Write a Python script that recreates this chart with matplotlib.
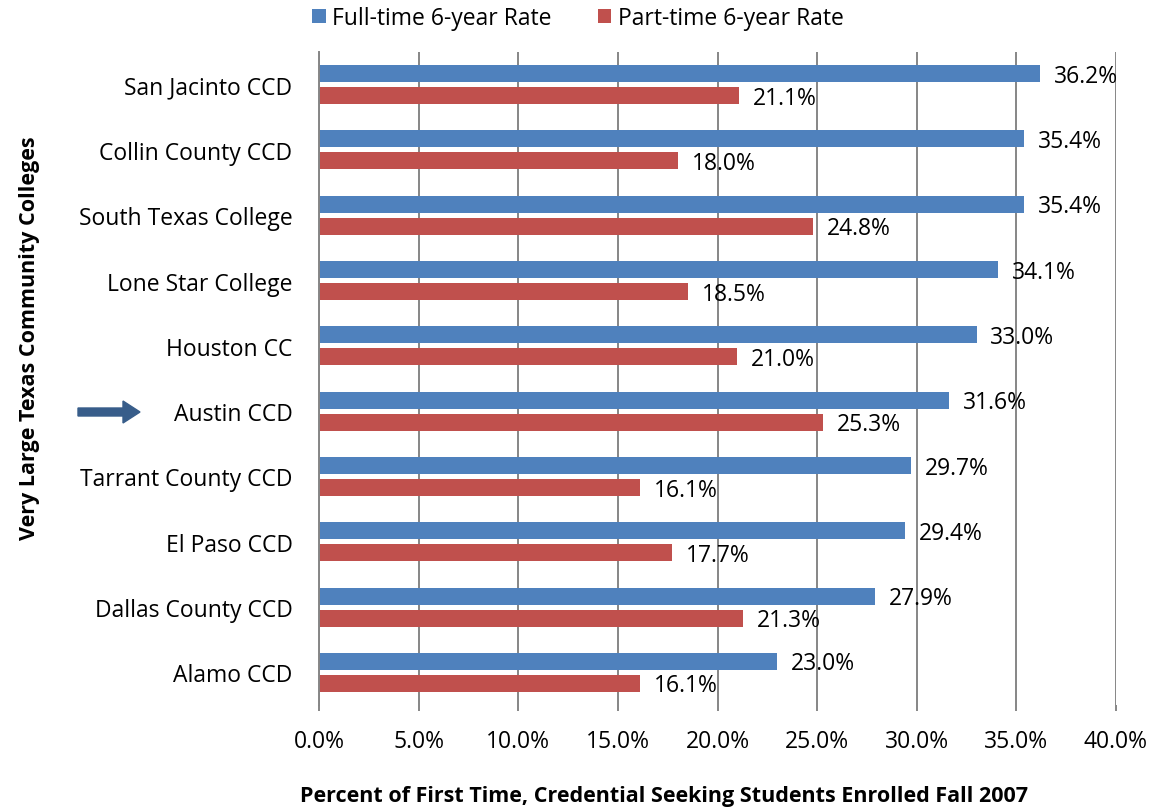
import matplotlib.pyplot as plt
import numpy as np
from matplotlib.patches import FancyArrow
from matplotlib.ticker import FuncFormatter

plt.rcParams["font.family"] = ["Open Sans", "DejaVu Sans"]

colleges = [
    "San Jacinto CCD", "Collin County CCD", "South Texas College",
    "Lone Star College", "Houston CC", "Austin CCD", "Tarrant County CCD",
    "El Paso CCD", "Dallas County CCD", "Alamo CCD",
]
full_time = [36.2, 35.4, 35.4, 34.1, 33.0, 31.6, 29.7, 29.4, 27.9, 23.0]
part_time = [21.1, 18.0, 24.8, 18.5, 21.0, 25.3, 16.1, 17.7, 21.3, 16.1]

BLUE = "#4F81BD"
RED = "#C0504D"
GRID = "#868686"

fig = plt.figure(figsize=(11.55, 8.12), dpi=100)
ax = fig.add_axes([319 / 1155, 1 - 706 / 812, (1116 - 319) / 1155, (706 - 53) / 812])

y = np.arange(len(colleges))
h = 0.26
off = 0.168
b1 = ax.barh(y - off, full_time, height=h, color=BLUE, label="Full-time 6-year Rate", zorder=3)
b2 = ax.barh(y + off, part_time, height=h, color=RED, label="Part-time 6-year Rate", zorder=3)

for bars, vals in ((b1, full_time), (b2, part_time)):
    for bar, v in zip(bars, vals):
        ax.annotate(f"{v:.1f}%", (v, bar.get_y() + bar.get_height() / 2),
                    xytext=(10, -1.5), textcoords="offset points",
                    ha="left", va="center", fontsize=16.5, color="#000000", zorder=4)

ax.set_ylim(len(colleges) - 0.5, -0.5)
ax.set_xlim(0, 40)
ax.set_xticks(np.arange(0, 40.1, 5))
ax.xaxis.set_major_formatter(FuncFormatter(lambda v, p: f"{v:.1f}%"))
ax.set_yticks(y)
ax.set_yticklabels(colleges)
ax.tick_params(axis="y", length=0, pad=19, labelsize=16.5)
ax.tick_params(axis="x", length=4, color=GRID, width=1.4, pad=13, labelsize=16.5)

ax.grid(axis="x", color=GRID, linewidth=1.4, zorder=0)
for s in ("top", "right", "bottom"):
    ax.spines[s].set_visible(False)
ax.spines["left"].set_color(GRID)
ax.spines["left"].set_linewidth(1.4)
ax.spines["left"].set_zorder(4)

fig.legend(handles=[b1, b2], loc="center", bbox_to_anchor=(578 / 1155, 1 - 19 / 812),
           ncol=2, frameon=False, fontsize=16.5, handlelength=0.6, handleheight=0.6,
           handletextpad=0.3, columnspacing=2.0)

fig.text(30 / 1155, 1 - 338 / 812, "Very Large Texas Community Colleges", rotation=90,
         ha="center", va="center", fontsize=15.5, fontweight="bold")
fig.text(664 / 1155, 1 - 797 / 812, "Percent of First Time, Credential Seeking Students Enrolled Fall 2007",
         ha="center", va="center", fontsize=15.5, fontweight="bold")

arrow = FancyArrow(0.78, 8.12 - 4.13, 0.45, 0, width=0.08, head_width=0.22,
                   head_length=0.17, length_includes_head=False,
                   color="#385D8A", transform=fig.dpi_scale_trans)
fig.patches.append(arrow)

fig.savefig("out.png", dpi=100)
